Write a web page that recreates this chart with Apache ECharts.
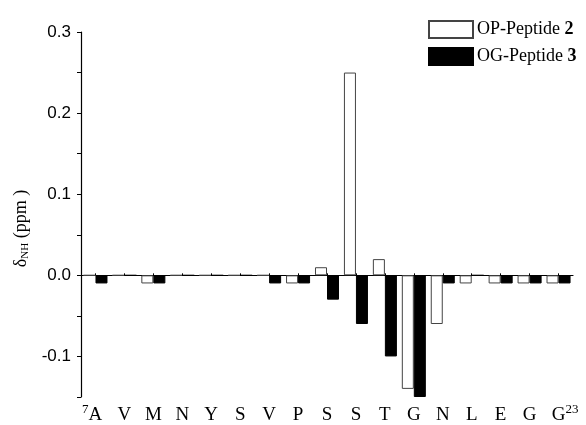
<!DOCTYPE html>
<html>
<head>
<meta charset="utf-8">
<script src="https://cdn.jsdelivr.net/npm/echarts@6/dist/echarts.min.js"></script>
<style>
  html, body { margin: 0; padding: 0; background: #fff; }
  #chart { width: 586px; height: 425px; }
</style>
</head>
<body>
<div id="chart"></div>
<script>
// residues 7..23
var residues = ['A', 'V', 'M', 'N', 'Y', 'S', 'V', 'P', 'S', 'S', 'T', 'G', 'N', 'L', 'E', 'G', 'G'];
var opPeptide = [0, 0, -0.01, 0, 0, 0, 0, -0.01, 0.01, 0.25, 0.02, -0.14, -0.06, -0.01, -0.01, -0.01, -0.01];
var ogPeptide = [-0.01, 0, -0.01, 0, 0, 0, -0.01, -0.01, -0.03, -0.06, -0.10, -0.15, -0.01, 0, -0.01, -0.01, -0.01];
var firstNum = '7', lastNum = '23';

var serif = '"Liberation Serif", "Times New Roman", serif';
var sans = '"Liberation Sans", Arial, sans-serif';

var myChart = echarts.init(document.getElementById('chart'));

var option = {
    animation: false,
    backgroundColor: '#fff',
    grid: { left: 81, right: 13, top: 32, bottom: 28 },
    legend: {
        orient: 'vertical',
        left: 423,
        top: 15,
        icon: 'rect',
        itemWidth: 44,
        itemHeight: 17,
        itemGap: 8,
        selectedMode: false,
        formatter: function (name) {
            var parts = name.split(' ');
            return '{t|' + parts[0] + ' }{b|' + parts[1] + '}';
        },
        textStyle: {
            padding: [0, 0, 0, -1],
            rich: {
                t: { fontFamily: serif, fontSize: 18, color: '#000' },
                b: { fontFamily: serif, fontSize: 18, fontWeight: 'bold', color: '#000' }
            }
        },
        data: ['OP-Peptide 2', 'OG-Peptide 3']
    },
    xAxis: [{
        type: 'category',
        data: residues,
        axisLine: { onZero: true, lineStyle: { color: '#000', width: 1.2 } },
        axisTick: { show: true, alignWithLabel: true, inside: true, length: 2, lineStyle: { color: '#000' } },
        axisLabel: { show: false }
    }, {
        type: 'category',
        data: residues,
        position: 'bottom',
        axisLine: { show: false, onZero: false },
        axisTick: { show: false },
        axisLabel: {
            margin: 6,
            interval: 0,
            formatter: function (v, i) {
                if (i === 0) return '{sup|' + firstNum + '}{r|' + v + '}{gh|' + firstNum + '}';
                if (i === residues.length - 1) return '{gh|' + lastNum + '}{r|' + v + '}{sup|' + lastNum + '}';
                return '{r|' + v + '}';
            },
            rich: {
                r: { fontFamily: serif, fontSize: 19, color: '#000', lineHeight: 22, verticalAlign: 'bottom' },
                sup: { fontFamily: serif, fontSize: 13, color: '#000', lineHeight: 22, verticalAlign: 'top' },
                gh: { fontFamily: serif, fontSize: 13, color: 'rgba(0,0,0,0)', lineHeight: 22, verticalAlign: 'top' }
            }
        }
    }],
    yAxis: {
        type: 'value',
        min: -0.15,
        max: 0.3,
        interval: 0.05,
        name: 'δ{sub|NH} (ppm )',
        nameLocation: 'middle',
        nameGap: 44,
        nameRotate: 90,
        nameTextStyle: {
            fontFamily: serif,
            fontSize: 18,
            color: '#000',
            padding: [0, 28, 0, 0],
            rich: {
                sub: { fontFamily: serif, fontSize: 11, color: '#000', verticalAlign: 'bottom', padding: [8, 0, 0, 0] }
            }
        },
        splitLine: { show: false },
        axisLine: { show: true, lineStyle: { color: '#000', width: 1.2 } },
        axisTick: { show: true, length: 4, lineStyle: { color: '#000' } },
        axisLabel: {
            fontFamily: sans,
            fontSize: 17,
            color: '#000',
            margin: 10,
            formatter: function (v) {
                var r = Math.round(v * 100);
                if (r % 10 !== 0) return '';
                return (r / 100).toFixed(1);
            }
        }
    },
    series: [{
        name: 'OP-Peptide 2',
        type: 'bar',
        xAxisIndex: 0,
        data: opPeptide,
        barGap: '0%',
        barCategoryGap: '17%',
        itemStyle: { color: '#fff', borderColor: '#444', borderWidth: 1 }
    }, {
        name: 'OG-Peptide 3',
        type: 'bar',
        xAxisIndex: 0,
        data: ogPeptide,
        barGap: '0%',
        barCategoryGap: '17%',
        itemStyle: { color: '#000', borderColor: '#000', borderWidth: 1 }
    }]
};

myChart.setOption(option);
</script>
</body>
</html>
